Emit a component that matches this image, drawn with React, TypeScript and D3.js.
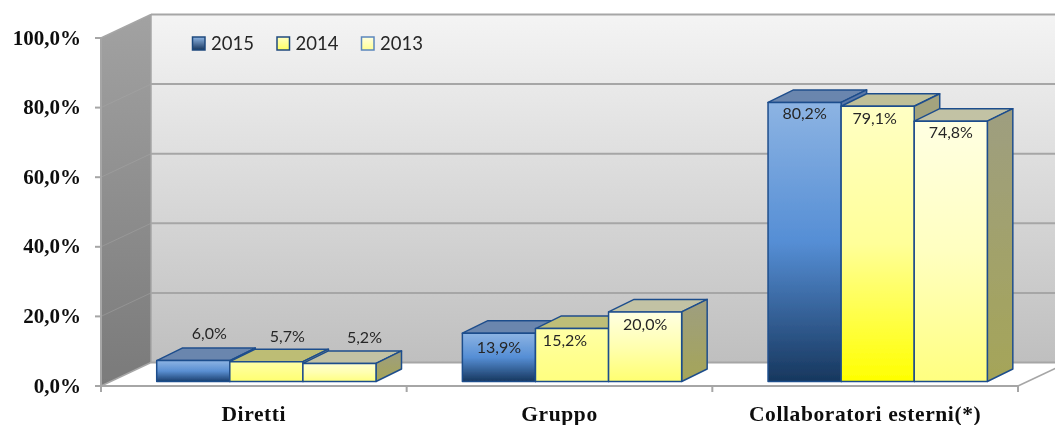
import React from "react";
import * as d3 from "d3";

const categories = ["Diretti", "Gruppo", "Collaboratori esterni(*)"];
const seriesNames = ["2015", "2014", "2013"];
const values2015 = [6.0, 13.9, 80.2];
const values2014 = [5.7, 15.2, 79.1];
const values2013 = [5.2, 20.0, 74.8];
const yTicks = [0, 20, 40, 60, 80, 100];
const seriesValues = [values2015, values2014, values2013];

const W = 1055, H = 425;
const x0 = 101, x1 = 1018, yBase = 386, yTop = 38;
const wallDx = 50, wallDy = -23.5;
const barDx = 25.5, barDy = -12.5, barLift = -4.5;

const y = d3.scaleLinear().domain([0, 100]).range([yBase, yTop]);
const xCat = d3.scaleBand<string>().domain(categories).range([x0, x1]);
const xSer = d3.scaleBand<string>().domain(seriesNames).range([55.7, 275]);

const fmt = (v: number) => v.toFixed(1).replace(".", ",") + "%";

// per-bar front gradients [top, mid, bottom], series then category
const frontStops = [
  [["#8DB4E3", "#5A8FD2", "#1B3F6E"], ["#8DB4E3", "#558ED5", "#17375E"], ["#8DB4E3", "#558ED5", "#17375E"]],
  [["#FFFFA6", "#FFFF8C", "#FFFF70"], ["#FFFFA6", "#FFFF90", "#FFFF80"], ["#FFFFC4", "#FFFF99", "#FFFF00"]],
  [["#FFFFD0", "#FFFFB0", "#FFFF80"], ["#FFFFE2", "#FFFFB0", "#FFFF70"], ["#FFFFE2", "#FFFFC0", "#FFFF80"]],
];
const topFill = [
  ["#6B86AE", "#6B86AE", "#6B86AE"],
  ["#BDBD74", "#BEBE78", "#BFBF98"],
  ["#C2C2A4", "#C2C2A4", "#C2C2A4"],
];
const sideTop = ["#5A78A8", "#A3A37F", "#9E9E80"];
const sideBottom = ["#5A78A8", "#A3A35A", "#A5A558"];
const legendStroke = ["#1F497D", "#1F497D", "#5B87BC"];
const legendStops = [["#8DB4E3", "#17375E"], ["#FFFFC4", "#FFFF60"], ["#FFFFE2", "#FFFF90"]];
// label nudges from the bar's centre/top, category then series
const labelOffsets: [number, number][][] = [
  [[16, -27], [21, -25], [25, -25]],
  [[0, 15], [-7, 12], [0, 13]],
  [[0, 12], [-3, 13], [0, 12]],
];

export default function App() {
  const wallRight = W + 20;
  return (
    <svg width={W} height={H} viewBox={`0 0 ${W} ${H}`} style={{ position: "absolute", left: 0, top: 0, background: "#fff" }}>
      <defs>
        <filter id="soft" x="0" y="0" width="100%" height="100%" filterUnits="userSpaceOnUse">
          <feGaussianBlur stdDeviation="0.35" />
        </filter>
        <linearGradient id="back" x1="0" y1="0" x2="0" y2="1">
          <stop offset="0" stopColor="#F4F4F4" />
          <stop offset="1" stopColor="#BFBFBF" />
        </linearGradient>
        <linearGradient id="left" x1="0" y1="0" x2="0" y2="1">
          <stop offset="0" stopColor="#A2A2A2" />
          <stop offset="1" stopColor="#7A7A7A" />
        </linearGradient>
        {frontStops.map((s, si) => s.map((st, ci) => (
          <linearGradient key={`${si}-${ci}`} id={`f${si}-${ci}`} x1="0" y1="0" x2="0" y2="1">
            <stop offset="0" stopColor={st[0]} />
            <stop offset="0.5" stopColor={st[1]} />
            <stop offset="1" stopColor={st[2]} />
          </linearGradient>
        )))}
        {sideTop.map((c, i) => (
          <linearGradient key={i} id={`s${i}`} x1="0" y1="0" x2="0" y2="1">
            <stop offset="0" stopColor={c} />
            <stop offset="1" stopColor={sideBottom[i]} />
          </linearGradient>
        ))}
        {legendStops.map((c, i) => (
          <linearGradient key={i} id={`l${i}`} x1="0" y1="0" x2="0" y2="1">
            <stop offset="0" stopColor={c[0]} />
            <stop offset="1" stopColor={c[1]} />
          </linearGradient>
        ))}
      </defs>

      <g filter="url(#soft)">
        {/* walls */}
        <rect x={x0 + wallDx} y={y(100) + wallDy} width={wallRight - x0 - wallDx} height={y(0) - y(100)} fill="url(#back)" />
        <path d={`M${x0},${y(0)}L${x0},${y(100)}L${x0 + wallDx},${y(100) + wallDy}L${x0 + wallDx},${y(0) + wallDy}Z`} fill="url(#left)" />
        <path d={`M${x0 + wallDx},${y(0) + wallDy}L${x0},${y(0)}L${x1},${y(0)}L${x1 + wallDx},${y(0) + wallDy}Z`} fill="#fff" />

        {/* gridlines */}
        {yTicks.map((t) => (
          <g key={t}>
            <line x1={x0 + wallDx} x2={wallRight} y1={y(t) + wallDy} y2={y(t) + wallDy} stroke="#A6A6A6" strokeWidth={2} />
            <line x1={x0} x2={x0 + wallDx} y1={y(t)} y2={y(t) + wallDy} stroke="#A6A6A6" strokeWidth={t === 0 || t === 100 ? 1.5 : 0.8} strokeOpacity={t === 0 || t === 100 ? 1 : 0.6} />
            <line x1={x0 - 6} x2={x0} y1={y(t)} y2={y(t)} stroke="#A6A6A6" strokeWidth={2} />
            <text x={81} y={y(t) + 6.5} textAnchor="end" fontFamily="'Liberation Serif'" fontWeight={700} fontSize={21} fill="#111">{fmt(t)}</text>
          </g>
        ))}
        <line x1={x0 + wallDx} x2={x0 + wallDx} y1={y(100) + wallDy} y2={y(0) + wallDy} stroke="#A6A6A6" strokeWidth={1.5} />

        {/* axes */}
        <line x1={x0} x2={x0} y1={y(100)} y2={y(0) + 6} stroke="#A6A6A6" strokeWidth={2} />
        <line x1={x0} x2={x1} y1={y(0)} y2={y(0)} stroke="#A6A6A6" strokeWidth={2} />
        <line x1={x1} x2={x1 + wallDx} y1={y(0)} y2={y(0) + wallDy} stroke="#A6A6A6" strokeWidth={1.5} />
        {[...categories.map((c) => xCat(c) as number), x1].map((tx, i) => (
          <line key={i} x1={tx} x2={tx} y1={y(0)} y2={y(0) + 6} stroke="#A6A6A6" strokeWidth={2} />
        ))}

        {/* bars */}
        {categories.map((c, ci) => (
          <g key={c}>
            {seriesNames.map((s, si) => {
              const v = seriesValues[si][ci];
              const bx = (xCat(c) as number) + (xSer(s) as number);
              const bw = xSer.bandwidth();
              const top = y(v) + barLift;
              const bot = y(0) + barLift;
              return (
                <g key={s} stroke="#1F4E8C" strokeWidth={1.5} strokeLinejoin="round">
                  <path d={`M${bx},${top}L${bx + barDx},${top + barDy}L${bx + bw + barDx},${top + barDy}L${bx + bw},${top}Z`} fill={topFill[si][ci]} />
                  <path d={`M${bx + bw},${top}L${bx + bw + barDx},${top + barDy}L${bx + bw + barDx},${bot + barDy}L${bx + bw},${bot}Z`} fill={`url(#s${si})`} />
                  <rect x={bx} y={top} width={bw} height={bot - top} fill={`url(#f${si}-${ci})`} />
                </g>
              );
            })}
            {seriesNames.map((s, si) => {
              const v = seriesValues[si][ci];
              const bx = (xCat(c) as number) + (xSer(s) as number) + xSer.bandwidth() / 2;
              const [ox, oy] = labelOffsets[ci][si];
              return (
                <text key={s} x={bx + ox} y={y(v) + barLift + oy + 5} textAnchor="middle" fontFamily="Lato" fontSize={16} fill="#262626">{fmt(v)}</text>
              );
            })}
            <text x={(xCat(c) as number) + xCat.bandwidth() / 2 + 0} y={421} textAnchor="middle" fontFamily="'Liberation Serif'" fontWeight={700} fontSize={21.5} letterSpacing={0.6} fill="#111">{c}</text>
          </g>
        ))}

        {/* legend */}
        {seriesNames.map((s, i) => {
          const lx = d3.scalePoint<string>().domain(seriesNames).range([192.5, 361.5])(s) as number;
          return (
            <g key={s}>
              <rect x={lx} y={37} width={12.5} height={13} fill={`url(#l${i})`} stroke={legendStroke[i]} strokeWidth={1.5} />
              <text x={lx + 18.5} y={50} fontFamily="Lato" fontSize={18.5} fill="#262626">{s}</text>
            </g>
          );
        })}
      </g>
    </svg>
  );
}
